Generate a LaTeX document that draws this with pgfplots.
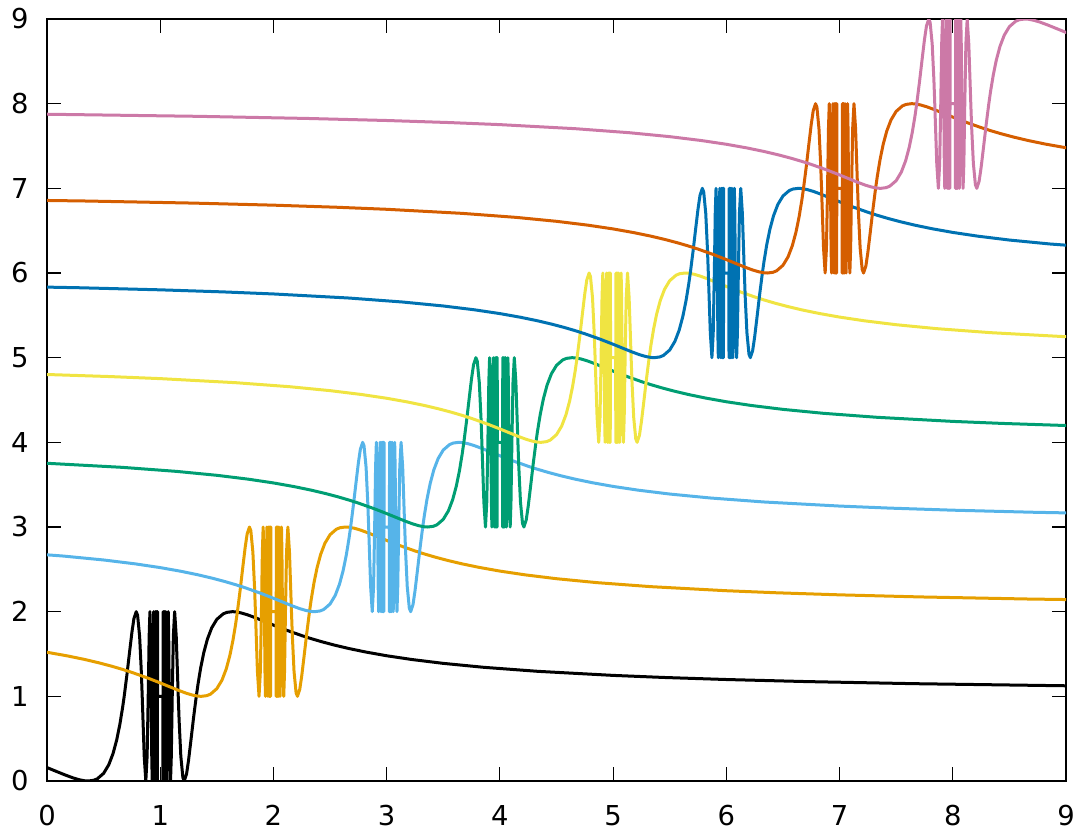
\documentclass[border=0pt]{standalone}
\usepackage{fontspec}
\setmainfont{DejaVu Sans}
\usepackage{pgfplots}
\usepackage{pgfplotstable}
\pgfplotsset{compat=1.18}
\definecolor{c0}{HTML}{000000}
\definecolor{c1}{HTML}{E69F00}
\definecolor{c2}{HTML}{56B4E9}
\definecolor{c3}{HTML}{009E73}
\definecolor{c4}{HTML}{F0E442}
\definecolor{c5}{HTML}{0072B2}
\definecolor{c6}{HTML}{D55E00}
\definecolor{c7}{HTML}{CC79A7}
% shape shared by all curves: t, s
\pgfplotstableread{
t s
-8.0 -0.1247
-6.66667 -0.1494
-5.71429 -0.1741
-5.0 -0.1987
-4.44444 -0.2231
-4.0 -0.2474
-3.33333 -0.2955
-2.85714 -0.3429
-2.5 -0.3894
-2.22222 -0.4350
-2.0 -0.4794
-1.81818 -0.5227
-1.66667 -0.5646
-1.53846 -0.6052
-1.42857 -0.6442
-1.33333 -0.6816
-1.25 -0.7174
-1.11111 -0.7833
-1.0 -0.8415
-0.90909 -0.8912
-0.83333 -0.9320
-0.76923 -0.9636
-0.71429 -0.9854
-0.66667 -0.9975
-0.63662 -1
-0.58824 -0.9917
-0.55556 -0.9738
-0.5 -0.9093
-0.45455 -0.8085
-0.41667 -0.6755
-0.38462 -0.5155
-0.35714 -0.3350
-0.33333 -0.1411
-0.31831 0
-0.29412 0.2555
-0.27027 0.5298
-0.25 0.7568
-0.23256 0.9162
-0.21221 1
-0.2 0.9589
-0.18182 0.7055
-0.16667 0.2794
-0.15915 0
-0.14147 -0.7071
-0.12732 -1
-0.11575 -0.7071
-0.10610 0
-0.09794 0.7071
-0.09095 1
-0.08488 0.7071
-0.07958 0
-0.07490 -0.7071
-0.07074 -1
-0.06701 -0.7071
-0.06366 0
-0.06063 0.7071
-0.05787 1
-0.05536 0.7071
-0.05305 0
-0.05093 -0.7071
-0.04897 -1
-0.04716 -0.7071
-0.04547 0
-0.04391 0.7071
-0.04244 1
-0.04107 0.7071
-0.03979 0
-0.03858 -0.7071
-0.03745 -1
-0.03638 -0.7071
-0.03537 0
-0.03441 0.7071
-0.03351 1
-0.03265 0.7071
-0.03183 0
-0.03032 -1
-0.02894 0
-0.02768 1
-0.02653 0
-0.02546 -1
-0.02449 0
-0.02358 1
-0.02274 0
0.02274 0
0.02358 -1
0.02449 0
0.02546 1
0.02653 0
0.02768 -1
0.02894 0
0.03032 1
0.03183 0
0.03265 -0.7071
0.03351 -1
0.03441 -0.7071
0.03537 0
0.03638 0.7071
0.03745 1
0.03858 0.7071
0.03979 0
0.04107 -0.7071
0.04244 -1
0.04391 -0.7071
0.04547 0
0.04716 0.7071
0.04897 1
0.05093 0.7071
0.05305 0
0.05536 -0.7071
0.05787 -1
0.06063 -0.7071
0.06366 0
0.06701 0.7071
0.07074 1
0.07490 0.7071
0.07958 0
0.08488 -0.7071
0.09095 -1
0.09794 -0.7071
0.10610 0
0.11575 0.7071
0.12732 1
0.14147 0.7071
0.15915 0
0.16667 -0.2794
0.18182 -0.7055
0.2 -0.9589
0.21221 -1
0.23256 -0.9162
0.25 -0.7568
0.27027 -0.5298
0.29412 -0.2555
0.31831 0
0.33333 0.1411
0.35714 0.3350
0.38462 0.5155
0.41667 0.6755
0.45455 0.8085
0.5 0.9093
0.55556 0.9738
0.58824 0.9917
0.63662 1
0.66667 0.9975
0.71429 0.9854
0.76923 0.9636
0.83333 0.9320
0.90909 0.8912
1.0 0.8415
1.11111 0.7833
1.25 0.7174
1.33333 0.6816
1.42857 0.6442
1.53846 0.6052
1.66667 0.5646
1.81818 0.5227
2.0 0.4794
2.22222 0.4350
2.5 0.3894
2.85714 0.3429
3.33333 0.2955
4.0 0.2474
4.44444 0.2231
5.0 0.1987
5.71429 0.1741
6.66667 0.1494
8.0 0.1247
}\shape
\begin{document}
\begin{tikzpicture}
\begin{axis}[
  scale only axis,
  width=509.5pt, height=381pt,
  xmin=0, xmax=9, ymin=0, ymax=9,
  xtick={0,1,...,9}, ytick={0,1,...,9},
  tick pos=both, ticklabel pos=left,
  tick align=inside,
  major tick length=7pt,
  axis line style={line width=0.7pt, black},
  every tick/.style={line width=0.6pt, black},
  /pgf/number format/assume math mode=true,
  tick label style={font=\fontsize{13.7}{16}\selectfont, inner sep=0pt},
  yticklabel style={anchor=east, xshift=-9pt},
  xticklabel style={anchor=north, yshift=-12pt},
  clip=true,
  every axis plot/.append style={line width=1.5pt, line join=round},
]
\addplot[c0] table[x expr=\thisrow{t}+1, y expr=\thisrow{s}+1] {\shape};
\addplot[c1] table[x expr=\thisrow{t}+2, y expr=\thisrow{s}+2] {\shape};
\addplot[c2] table[x expr=\thisrow{t}+3, y expr=\thisrow{s}+3] {\shape};
\addplot[c3] table[x expr=\thisrow{t}+4, y expr=\thisrow{s}+4] {\shape};
\addplot[c4] table[x expr=\thisrow{t}+5, y expr=\thisrow{s}+5] {\shape};
\addplot[c5] table[x expr=\thisrow{t}+6, y expr=\thisrow{s}+6] {\shape};
\addplot[c6] table[x expr=\thisrow{t}+7, y expr=\thisrow{s}+7] {\shape};
\addplot[c7] table[x expr=\thisrow{t}+8, y expr=\thisrow{s}+8] {\shape};
\end{axis}
\pgfresetboundingbox
\path[use as bounding box] (-23.5pt,-25pt) rectangle (517pt,390.5pt);
\end{tikzpicture}
\end{document}
